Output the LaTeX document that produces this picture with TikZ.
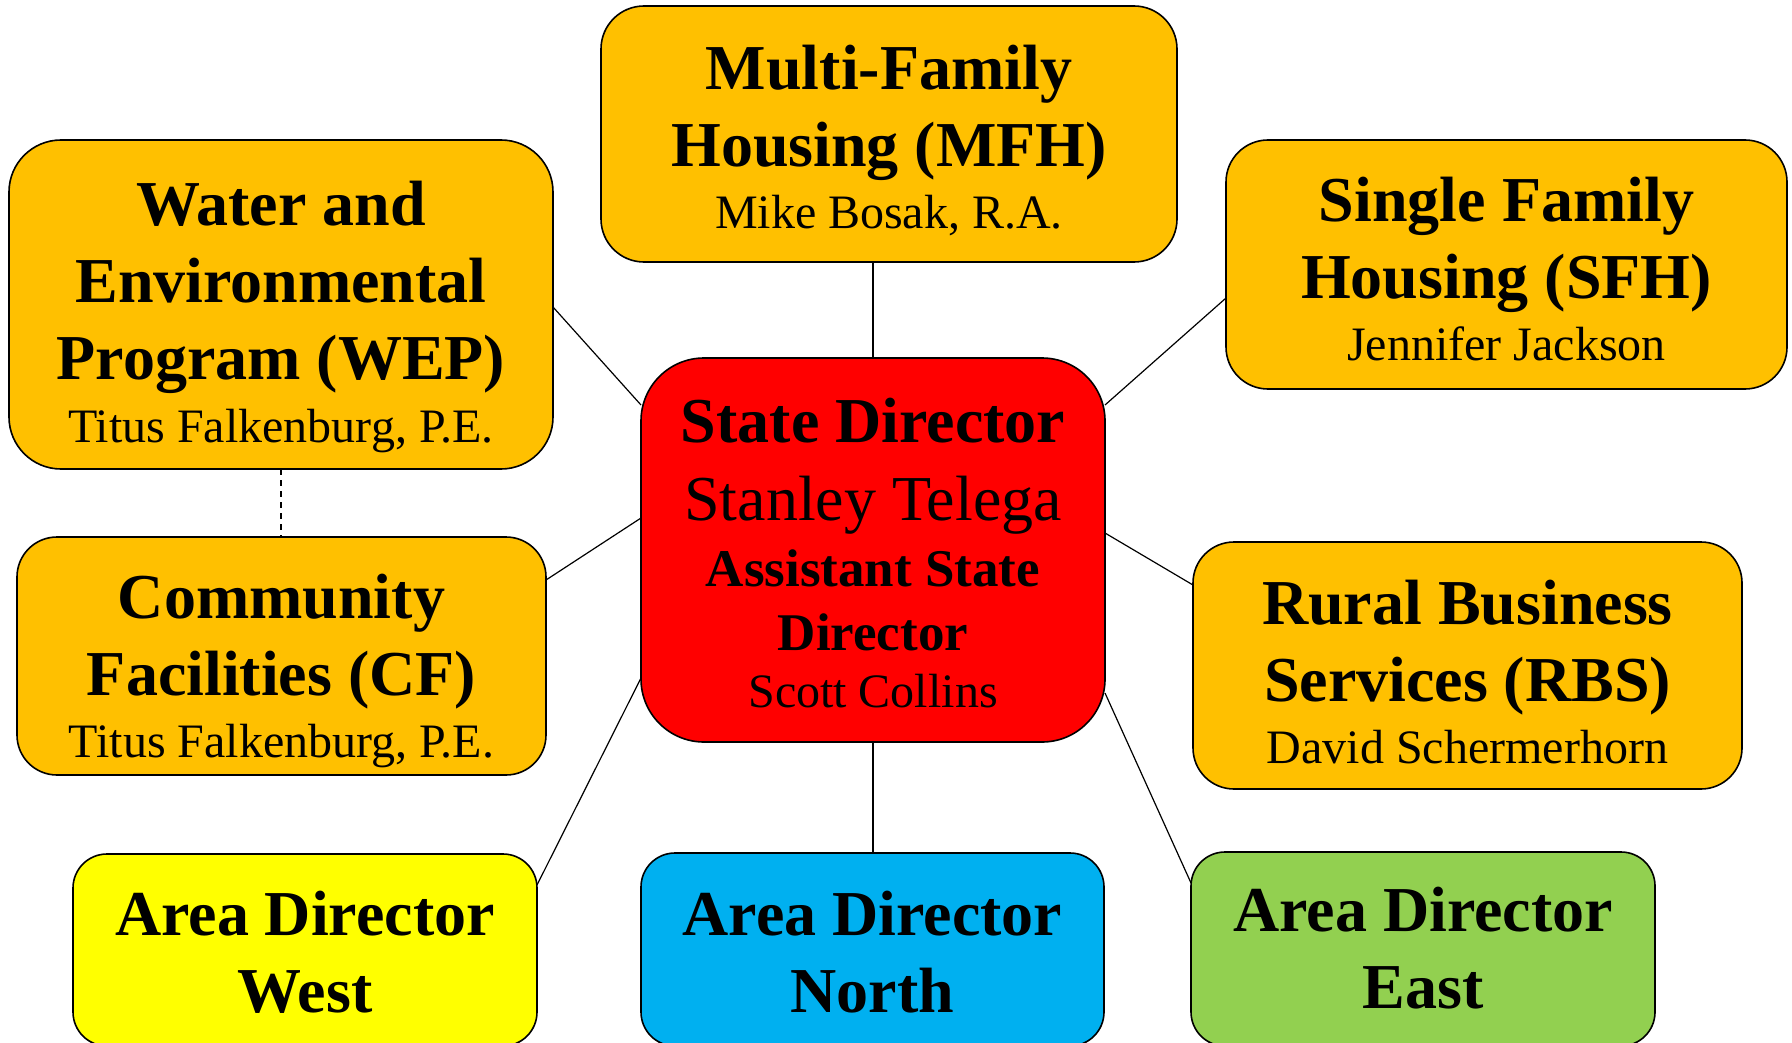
\documentclass[tikz,border=0pt]{standalone}
\usepackage{fontspec}
\setmainfont{Liberation Serif}
\definecolor{gold}{HTML}{FFC000}
\definecolor{sdred}{HTML}{FF0000}
\definecolor{adyellow}{HTML}{FFFF00}
\definecolor{adblue}{HTML}{00B0F0}
\definecolor{adgreen}{HTML}{92D050}
\tikzset{
  box/.style={draw=black, line width=0.8pt, inner sep=0pt, outer sep=0pt},
  txt/.style={align=center, inner sep=0pt, anchor=base, font=\fontsize{32}{38.5}\selectfont\bfseries},
  conn/.style={draw=black, line width=0.6pt},
}
\newcommand{\nm}[1]{{\fontsize{24}{28}\selectfont\mdseries #1}}
\begin{document}
\begin{tikzpicture}[x=0.5pt,y=-0.5pt]
\useasboundingbox (0,0) rectangle (1792,1043);
\clip (0,0) rectangle (1792,1043);
% boxes
\node[box, fill=gold, minimum width=288pt, minimum height=128pt, rounded corners=21.5pt] (mfh) at (889,134) {};
\node[box, fill=gold, minimum width=272pt, minimum height=164.5pt, rounded corners=26pt] (wep) at (281,304.5) {};
\node[box, fill=gold, minimum width=280.5pt, minimum height=124.5pt, rounded corners=21pt] (sfh) at (1506.5,264.5) {};
\node[box, fill=sdred, minimum width=232pt, minimum height=192pt, rounded corners=31.5pt] (sd) at (873,550) {};
\node[box, fill=gold, minimum width=264.5pt, minimum height=119pt, rounded corners=20pt] (cf) at (281.5,656) {};
\node[box, fill=gold, minimum width=274.5pt, minimum height=123.5pt, rounded corners=20.5pt] (rbs) at (1467.5,665.5) {};
\node[box, fill=adyellow, minimum width=232pt, minimum height=96pt, rounded corners=17pt] (west) at (305,950) {};
\node[box, fill=adblue, minimum width=231.5pt, minimum height=96.5pt, rounded corners=17pt] (north) at (872.5,949.5) {};
\node[box, fill=adgreen, minimum width=232pt, minimum height=97pt, rounded corners=17pt] (east) at (1423,949) {};
% texts (anchor = baseline of the last line)
\node[txt] (mfht) at (889,228) {Multi-Family\\Housing (MFH)\\[-7.5pt]\nm{Mike Bosak, R.A.}};
\node[txt] (wept) at (281,442) {Water and\\Environmental\\Program (WEP)\\[-7pt]\nm{Titus Falkenburg, P.E.}};
\node[txt] (sfht) at (1506.5,360) {Single Family\\Housing (SFH)\\[-7.5pt]\nm{Jennifer Jackson}};
\node[txt] (sdt) at (873,707) {State Director\\[0.5pt]{\fontsize{32}{38}\selectfont\mdseries Stanley Telega}\\[-5.5pt]{\fontsize{26.5}{32}\selectfont Assistant State}\\[-6.5pt]{\fontsize{26.5}{32}\selectfont Director}\\[-10pt]\nm{Scott Collins}};
\node[txt] (cft) at (281.5,757) {Community\\Facilities (CF)\\[-7.5pt]\nm{Titus Falkenburg, P.E.}};
\node[txt] (rbst) at (1467.5,763) {Rural Business\\Services (RBS)\\[-7.5pt]\nm{David Schermerhorn}};
\node[txt] (westt) at (305,1012) {Area Director\\West};
\node[txt] (northt) at (872.5,1012) {Area Director\\North};
\node[txt] (eastt) at (1423,1008) {Area Director\\East};
% connectors
\draw[conn] (sd.north |- mfh.south) -- (sd.north);
\draw[conn] (sd.south) -- (sd.south |- north.north);
\draw[conn] ([yshift=-1.25pt]wep.east) -- ([yshift=-23.5pt]sd.north west);
\draw[conn] ([yshift=-23.5pt]sd.north east) -- ([yshift=-16.75pt]sfh.west);
\draw[conn] ([yshift=38pt]cf.east) -- ([yshift=16pt]sd.west);
\draw[conn] ([yshift=8.5pt]sd.east) -- ([yshift=40.25pt]rbs.west);
\draw[conn] ([yshift=-64pt]sd.west) -- ([yshift=-15.5pt]west.north east);
\draw[conn] ([yshift=-71.5pt]sd.east) -- ([yshift=-15.5pt]east.north west);
\draw[conn, dash pattern=on 3pt off 2.5pt] (wep.south) -- (wep.south |- cf.north);
\end{tikzpicture}
\end{document}
